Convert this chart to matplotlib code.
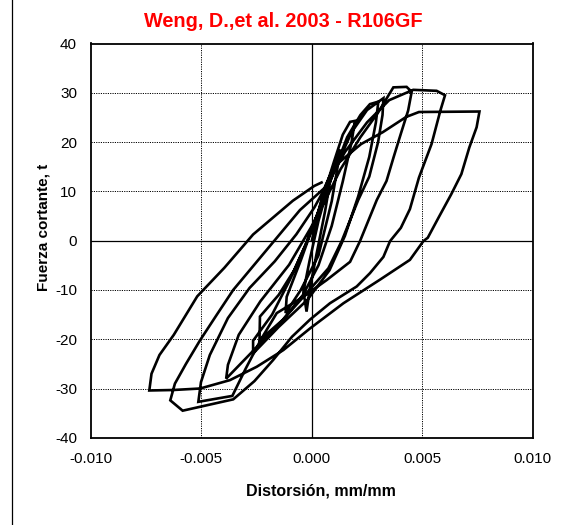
import matplotlib
matplotlib.use("Agg")
import matplotlib.pyplot as plt
from matplotlib.lines import Line2D
import numpy as np

plt.rcParams['font.family'] = ['Liberation Sans', 'DejaVu Sans']
plt.rcParams['axes.unicode_minus'] = False

title = "Weng, D.,et al. 2003 - R106GF"
xlabel = "Distorsión, mm/mm"
ylabel = "Fuerza cortante, t"
xticks = [-0.010, -0.005, 0.000, 0.005, 0.010]
xtick_labels = ["-0.010", "-0.005", "0.000", "0.005", "0.010"]
yticks = [-40, -30, -20, -10, 0, 10, 20, 30, 40]

# hysteresis path, distortion in 1e-3 mm/mm, shear force in t
distortion_e3 = [
    0.0, 0.3, 0.6, 0.9,
    0.6, 0.2, -0.1, -0.24,
    -0.38, -0.1, 0.3, 0.8, 1.3,
    0.9, 0.3, -0.5, -1.19,
    -1.14, -0.5, 0.3, 1.0, 1.4, 1.73, 1.95,
    1.8, 1.4, 0.9, 0.3, -0.4, -1.3, -2.37,
    -2.35, -1.5, -0.8, -0.2, 0.4, 1.0, 1.6, 2.2, 2.63, 3.01,
    2.9, 2.6, 2.1, 1.5, 0.8, -0.2, -1.5, -2.66,
    -2.66, -1.8, -1.0, -0.3, 0.3, 1.0, 1.8, 2.5, 3.24,
    3.2, 3.0, 2.6, 2.10, 1.35, 0.75, -0.5, -1.5, -2.8, -3.88,
    -3.80, -3.31, -2.33, -1.03, -0.05, 0.6, 1.3, 2.2, 3.0, 3.69, 4.29, 4.52,
    4.36, 4.03, 3.70, 3.38, 2.94, 2.18, 1.73, 0.67, -0.39, -1.59, -2.3, -3.0, -3.6, -5.14,
    -5.02, -4.62, -3.80, -2.82, -1.68, -0.70, 0.11, 0.77, 1.5, 2.5, 3.5, 4.59, 5.65, 6.03,
    5.82, 5.42, 4.85, 4.44, 4.03, 3.54, 3.24, 2.63, 2.03, 0.82, -0.08, -0.9, -1.75, -2.6, -3.56, -5.85, -6.41,
    -6.2, -5.7, -5.06, -4.3, -3.56, -2.05, -0.54, 0.6, 1.0, 2.23, 3.21, 4.27, 4.85, 7.59,
    7.46, 7.13, 6.77, 6.31, 5.74, 5.25, 5.05, 4.44, 3.09, 1.43, -0.08, -1.29, -2.50, -3.71, -5.06, -6.27, -7.36,
    -7.26, -6.90, -6.25, -5.19, -3.96, -2.66, -0.86, 0.11, 0.44,
]
shear_t = [
    0.0, 6.0, 11.0, 14.0,
    6.0, -3.0, -10.0, -14.4,
    -10.3, -4.0, 4.0, 12.0, 18.5,
    8.0, -3.0, -10.0, -14.7,
    -11.4, -4.0, 6.0, 16.0, 21.5, 24.1, 24.3,
    20.0, 12.0, 3.0, -5.0, -11.0, -16.0, -20.2,
    -15.4, -11.0, -6.0, 0.0, 7.0, 14.0, 21.0, 25.5, 27.7, 28.2,
    24.0, 17.0, 9.0, 1.0, -6.0, -12.0, -17.5, -22.9,
    -20.3, -15.0, -8.0, -1.0, 6.0, 14.0, 22.0, 26.5, 28.9,
    25.5, 20.0, 13.0, 8.25, -0.1, -5.6, -12.0, -17.0, -23.0, -28.0,
    -25.2, -19.1, -12.3, -4.9, 2.6, 8.1, 14.5, 21.0, 26.0, 31.1, 31.2, 30.2,
    26.4, 21.7, 16.9, 12.1, 8.25, -0.1, -4.3, -8.0, -11.4, -14.7, -20.0, -26.0, -31.5, -32.7,
    -28.7, -23.2, -15.7, -9.6, -4.2, 1.3, 6.7, 12.1, 18.0, 24.0, 28.5, 30.6, 30.4, 29.5,
    26.4, 19.6, 12.8, 6.4, 2.6, -0.1, -3.3, -6.6, -9.3, -12.7, -16.0, -19.5, -24.2, -28.5, -32.2, -34.5, -32.4,
    -29.0, -25.0, -20.2, -15.0, -10.0, -1.9, 6.2, 10.8, 15.0, 19.6, 22.0, 25.1, 26.1, 26.2,
    23.0, 18.9, 13.5, 9.4, 4.7, 0.6, -0.1, -3.9, -7.9, -12.7, -17.8, -22.2, -25.6, -28.3, -30.0, -30.3, -30.4,
    -27.0, -23.2, -19.1, -11.3, -5.5, 1.25, 8.1, 11.1, 11.8,
]

W, H = 566, 525
fig = plt.figure(figsize=(W / 100, H / 100), dpi=100)
L, R, T, B = 91, 532.7, 43.5, 437.8
ax = fig.add_axes([L / W, 1 - B / H, (R - L) / W, (B - T) / H])

x = np.array(distortion_e3) * 1e-3
y = np.array(shear_t)
ax.plot(x, y, color='black', lw=1.9, solid_joinstyle='miter', zorder=3)

ax.set_xlim(-0.010, 0.010)
ax.set_ylim(-40, 40)
ax.set_xticks(xticks)
ax.set_xticklabels(xtick_labels)
ax.set_yticks(yticks)
ax.tick_params(length=0, labelsize=11, colors='black')
ax.tick_params(axis='y', pad=10)
ax.tick_params(axis='x', pad=10)

for xv in xticks[1:-1]:
    if xv == 0:
        ax.axvline(xv, color='black', lw=0.9, zorder=1)
    else:
        ax.axvline(xv, color='black', lw=0.7, ls=(0, (1.2, 1.2)), zorder=1)
for yv in yticks[1:-1]:
    if yv == 0:
        ax.axhline(yv, color='black', lw=0.9, zorder=1)
    else:
        ax.axhline(yv, color='black', lw=0.7, ls=(0, (1.2, 1.2)), zorder=1)

for s in ax.spines.values():
    s.set_linewidth(1.3)
    s.set_color('black')

fig.text(0.5, 1 - 21.7 / H, title, color='red', fontsize=14.3, fontweight='bold',
         ha='center', va='center')
fig.text(320.8 / W, 1 - 490.7 / H, xlabel, fontsize=11.5, fontweight='bold',
         ha='center', va='center')
fig.text(43.5 / W, 1 - 227.5 / H, ylabel, fontsize=11, fontweight='bold',
         ha='center', va='center', rotation=90)

fig.add_artist(Line2D([11.7 / W, 11.7 / W], [0, 1], color='black', lw=0.9,
                      transform=fig.transFigure))

fig.savefig("out.png", dpi=100)
